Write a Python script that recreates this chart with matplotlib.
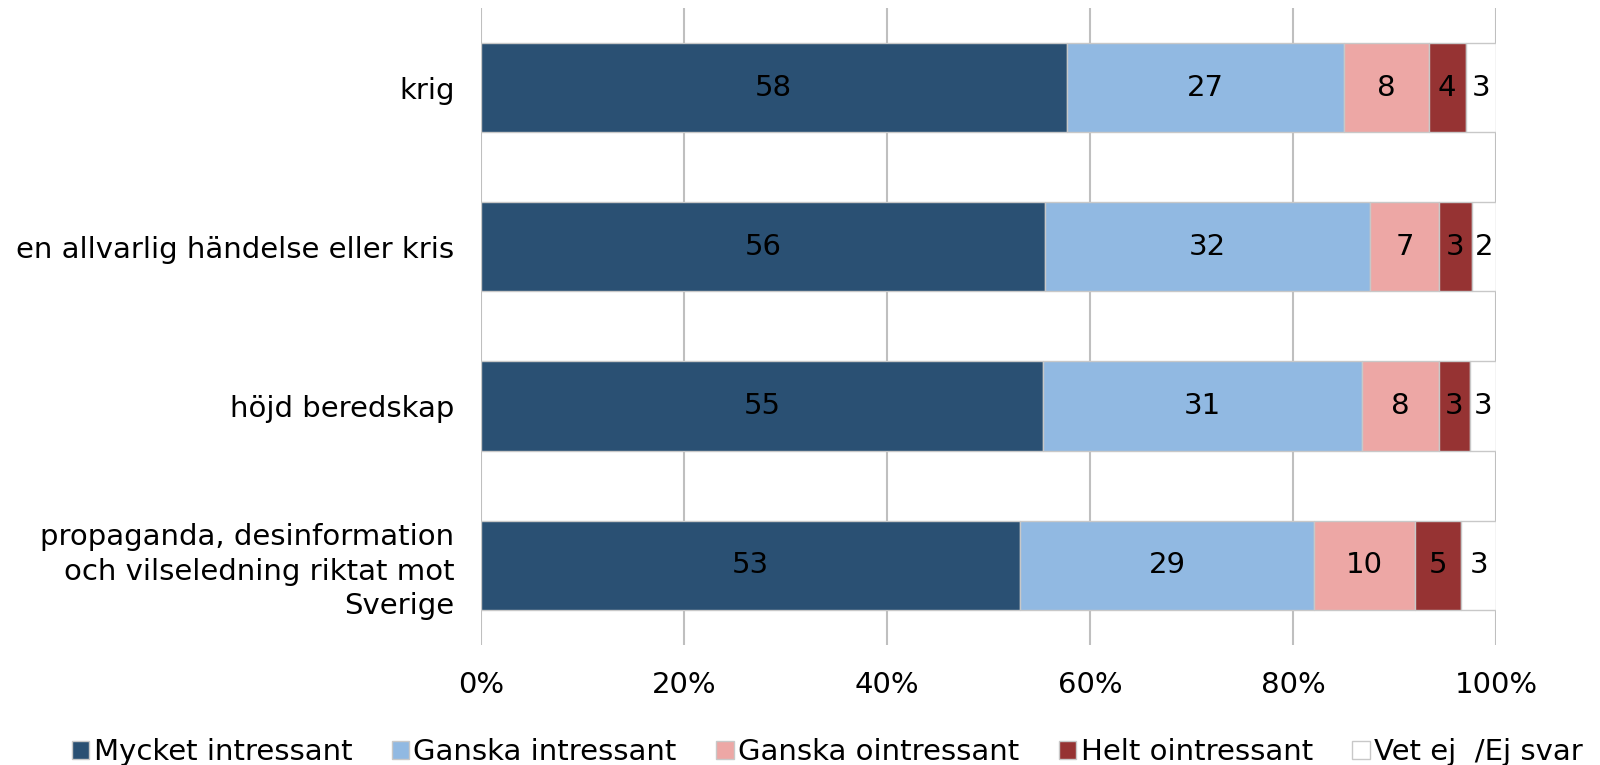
import matplotlib.pyplot as plt
import numpy as np

categories = [
    "krig",
    "en allvarlig händelse eller kris",
    "höjd beredskap",
    "propaganda, desinformation\noch vilseledning riktat mot\nSverige",
]
series_names = ["Mycket intressant", "Ganska intressant", "Ganska ointressant",
                "Helt ointressant", "Vet ej  /Ej svar"]
mycket = [57.7, 55.6, 55.4, 53.1]
ganska = [27.3, 32.0, 31.4, 29.0]
ganska_oin = [8.4, 6.8, 7.6, 9.9]
helt_oin = [3.6, 3.2, 3.0, 4.6]
vet_ej = [3.0, 2.4, 2.6, 3.4]
colors = ["#2A5073", "#91B9E2", "#EDA7A5", "#963333", "#FFFFFF"]
tick_vals = [0, 20, 40, 60, 80, 100]

plt.rcParams["font.family"] = ["DejaVu Sans"]
fs = 21

fig = plt.figure(figsize=(16, 7.65), dpi=100)
ax = fig.add_axes([0.3006, 0.157, 0.6344, 0.8325])

series = [mycket, ganska, ganska_oin, helt_oin, vet_ej]
y = np.arange(len(categories))
left = np.zeros(len(categories))
for name, vals, col in zip(series_names, series, colors):
    vals = np.array(vals)
    ax.barh(y, vals, left=left, height=0.56, color=col,
            edgecolor="#C8C8C8", linewidth=1, label=name, zorder=3)
    for yi, l, v in zip(y, left, vals):
        ax.text(l + v / 2, yi, f"{v:.0f}", ha="center", va="center",
                fontsize=fs, color="black", zorder=4)
    left += vals

ax.set_xlim(0, 100)
ax.set_ylim(len(categories) - 0.5, -0.5)
ax.set_xticks(tick_vals)
ax.set_xticklabels([f"{t}%" for t in tick_vals], fontsize=fs)
ax.set_yticks(y)
ax.set_yticklabels(categories, fontsize=fs, ha="right", linespacing=1.3)
ax.tick_params(axis="both", length=0)
ax.tick_params(axis="x", pad=19)
ax.tick_params(axis="y", pad=19)
ax.grid(axis="x", color="#BFBFBF", linewidth=1.5, zorder=0)
for s in ax.spines.values():
    s.set_visible(False)

fig.legend(loc="lower center", bbox_to_anchor=(0.517, -0.036), ncol=5,
           fontsize=fs, frameon=False, handlelength=0.6, handleheight=0.6,
           handletextpad=0.15, columnspacing=1.35)

fig.savefig("out.png", dpi=100)
